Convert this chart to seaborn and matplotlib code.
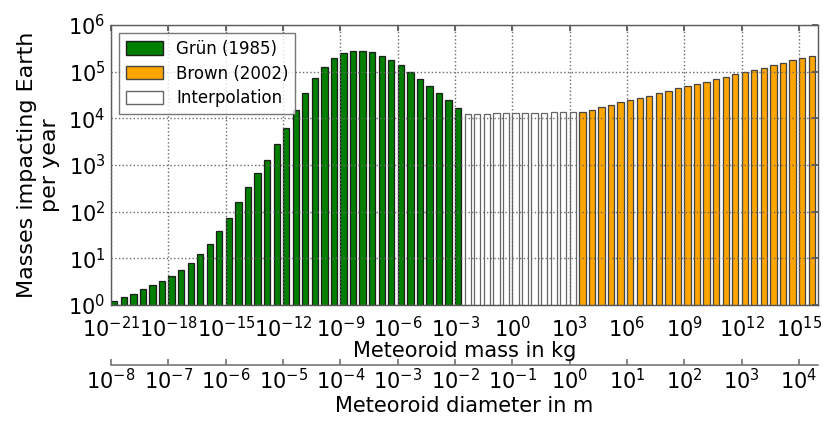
import numpy as np
import pandas as pd
import matplotlib
matplotlib.use("Agg")
import matplotlib.pyplot as plt
import seaborn as sns
from matplotlib.patches import Patch
from matplotlib.ticker import LogFormatterSciNotation, FixedLocator, NullLocator

# ---- data ----
# bar positions: log10 of meteoroid mass (kg), half-decade bins
green_exp = np.arange(-21.0, -2.9, 0.5)
white_exp = np.arange(-2.5, 3.1, 0.5)
orange_exp = np.arange(3.5, 15.6, 0.5)

green_vals = [1.24, 1.46, 1.75, 2.17, 2.63, 3.31, 4.27, 5.62, 8.07, 12.2,
              20.6, 38.5, 74.3, 161, 338, 686, 1300, 2770, 6310, 15350,
              35500, 71900, 128000, 193000, 251000, 282000, 282000, 263000, 219000, 174000,
              135000, 100000, 69200, 50100, 34700, 24500, 16200]
white_vals = [12600, 12600, 12600, 12700, 12800, 12900, 12900, 13100, 13200, 13300,
              13500, 13700]
orange_vals = [13700, 15300, 17500, 19300, 22000, 24500, 26900, 30600, 34400, 39200,
               44000, 49300, 54500, 61100, 69700, 76900, 87700, 98400, 108700, 121900,
               136800, 156000, 175000, 196300, 216800]

labels = ["Grün (1985)", "Brown (2002)", "Interpolation"]
x_ticks_exp = list(range(-21, 16, 3))
y_ticks_exp = list(range(0, 7))
d_ticks_exp = list(range(-8, 5))

sns.set_theme(style="white")
plt.rcParams["font.family"] = ["DejaVu Sans"]
plt.rcParams["axes.unicode_minus"] = False
plt.rcParams["mathtext.fontset"] = "dejavusans"
plt.rcParams["text.color"] = "black"
plt.rcParams["axes.labelcolor"] = "black"
plt.rcParams["xtick.labelcolor"] = "black"
plt.rcParams["ytick.labelcolor"] = "black"

fig = plt.figure(figsize=(8.23, 4.21), dpi=100)
ax = fig.add_axes([0.135, 0.2755, 0.859, 0.6655])
ax.set_yscale("log")

SHRINK = 0.698
OFFSET = 0.1227
edge_dark = "#1e1e1e"

def draw(exps, vals, color, ec):
    exps = np.asarray(exps)
    df = pd.DataFrame({"mass": 10.0 ** exps, "count": vals})
    bins = list(np.append(exps - OFFSET, exps[-1] - OFFSET + 0.5))
    sns.histplot(data=df, x="mass", weights="count", bins=bins, log_scale=(True, False),
                 shrink=SHRINK, color=color, edgecolor=ec, linewidth=0.9, alpha=1.0,
                 ax=ax, legend=False)

draw(green_exp, green_vals, "#007f00", edge_dark)
draw(white_exp, white_vals, "white", "#666666")
draw(orange_exp, orange_vals, "#ffa500", "#444444")

ax.set_yscale("log")
ax.set_xlim(1e-21, 1e16)
ax.set_ylim(1, 1e6)
ax.xaxis.set_major_locator(FixedLocator([10.0 ** e for e in x_ticks_exp]))
ax.xaxis.set_minor_locator(NullLocator())
ax.yaxis.set_major_locator(FixedLocator([10.0 ** e for e in y_ticks_exp]))
ax.yaxis.set_minor_locator(NullLocator())
ax.xaxis.set_major_formatter(LogFormatterSciNotation())
ax.yaxis.set_major_formatter(LogFormatterSciNotation())

ax.set_axisbelow(False)
ax.grid(True, which="major", linestyle=":", color="#6a6a6a", linewidth=1.0)
for s in ax.spines.values():
    s.set_color("#555555")
    s.set_linewidth(1.0)
ax.tick_params(axis="both", which="major", labelsize=15, direction="in",
               length=4, color="#555555", top=True, right=True)
ax.tick_params(axis="x", pad=8)
ax.tick_params(axis="y", pad=4)

ax.set_xlabel("Meteoroid mass in kg", fontsize=15, labelpad=0)
ax.set_ylabel("Masses impacting Earth\nper year", fontsize=16, labelpad=6,
              multialignment="center")

# secondary diameter axis
def m2d(m):
    return np.cbrt(np.asarray(m, dtype=float) / 1000.0)

def d2m(d):
    return 1000.0 * np.asarray(d, dtype=float) ** 3

sec = ax.secondary_xaxis(-0.215, functions=(m2d, d2m))
sec.xaxis.set_major_locator(FixedLocator([10.0 ** e for e in d_ticks_exp]))
sec.xaxis.set_minor_locator(NullLocator())
sec.xaxis.set_major_formatter(LogFormatterSciNotation())
sec.tick_params(axis="x", labelsize=15, direction="in", length=4, color="#777777", pad=2)
sec.spines["bottom"].set_color("#777777")
sec.spines["bottom"].set_linewidth(1.2)
sec.set_xlabel("Meteoroid diameter in m", fontsize=15, labelpad=2)

handles = [Patch(facecolor="#007f00", edgecolor=edge_dark, label=labels[0]),
           Patch(facecolor="#ffa500", edgecolor="#444444", label=labels[1]),
           Patch(facecolor="white", edgecolor="#666666", label=labels[2])]
leg = ax.legend(handles=handles, loc="upper left", fontsize=12, frameon=True,
                fancybox=False, handlelength=2.2, handleheight=0.85,
                borderaxespad=0.5, labelspacing=0.4)
leg.get_frame().set_edgecolor("#555555")
leg.get_frame().set_linewidth(1.0)

fig.savefig("out.png", dpi=100)
